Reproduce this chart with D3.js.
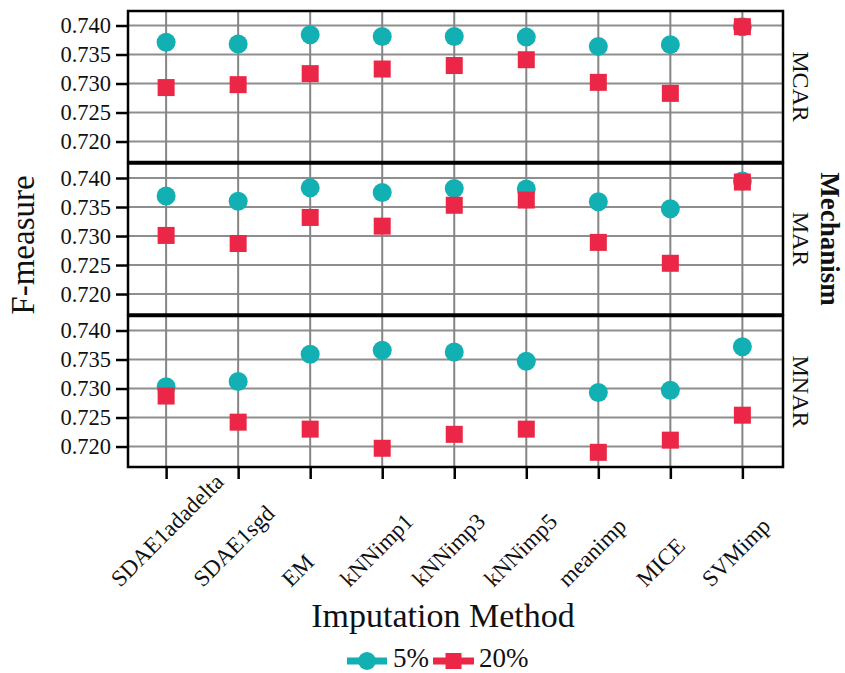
<!DOCTYPE html>
<html><head><meta charset="utf-8">
<script src="https://cdn.jsdelivr.net/npm/d3@7"></script>
<style>html,body{margin:0;padding:0;background:#fff;}svg{display:block;}</style>
</head><body>
<script>
const categories = ["SDAE1adadelta","SDAE1sgd","EM","kNNimp1","kNNimp3","kNNimp5","meanimp","MICE","SVMimp"];
const mechanisms = ["MCAR","MAR","MNAR"];
const seriesNames = ["5%","20%"];
const yTicks = [0.720,0.725,0.730,0.735,0.740];
const mcar5  = [0.7371,0.7368,0.7384,0.7381,0.7381,0.7380,0.7364,0.7367,0.7398];
const mcar20 = [0.7293,0.7298,0.7317,0.7325,0.7331,0.7341,0.7302,0.7283,0.7398];
const mar5   = [0.7369,0.7360,0.7383,0.7375,0.7382,0.7381,0.7359,0.7347,0.7395];
const mar20  = [0.7301,0.7287,0.7332,0.7317,0.7353,0.7362,0.7289,0.7253,0.7393];
const mnar5  = [0.7303,0.7312,0.7359,0.7366,0.7363,0.7347,0.7293,0.7297,0.7372];
const mnar20 = [0.7287,0.7242,0.7230,0.7197,0.7221,0.7230,0.7190,0.7211,0.7254];

const panelData = {MCAR:[mcar5,mcar20], MAR:[mar5,mar20], MNAR:[mnar5,mnar20]};
const colors = ["#13B0B3","#EB2646"];

const W = 845, H = 673;
const svg = d3.select("body").append("svg").attr("width",W).attr("height",H);
const left = 128, right = 783, panelH = 151, gap = 1.5, top0 = 11;
const serif = "'Liberation Serif', 'Times New Roman', serif";

const x = d3.scalePoint().domain(categories).range([126.5, 782]).padding(0.55);
const y = d3.scaleLinear().domain([0.71647, 0.7425]).range([panelH, 0]);

mechanisms.forEach((m, i) => {
  const top = top0 + i*(panelH+gap);
  const g = svg.append("g").attr("transform", `translate(0,${top})`);
  g.selectAll(".hg").data(yTicks).enter().append("line")
    .attr("x1", left).attr("x2", right)
    .attr("y1", d=>y(d)).attr("y2", d=>y(d))
    .attr("stroke","#8e8e8e").attr("stroke-width",2);
  g.selectAll(".vg").data(categories).enter().append("line")
    .attr("x1", d=>x(d)).attr("x2", d=>x(d))
    .attr("y1", 0).attr("y2", panelH)
    .attr("stroke","#858585").attr("stroke-width",2);
  const yAxis = d3.axisLeft(y).tickValues(yTicks).tickFormat(d3.format(".3f")).tickSize(12).tickPadding(5);
  const ya = g.append("g").attr("transform",`translate(${left},0)`).call(yAxis);
  ya.select(".domain").remove();
  ya.selectAll(".tick line").attr("stroke","#000").attr("stroke-width",2.5);
  ya.selectAll(".tick text").attr("font-family",serif).attr("font-size",22.5).attr("fill","#111");
  const [s5, s20] = panelData[m];
  g.selectAll(".c").data(s5).enter().append("circle")
    .attr("cx",(d,j)=>x(categories[j])).attr("cy",d=>y(d)).attr("r",9.5)
    .attr("fill",colors[0]);
  const sq = 17;
  g.selectAll(".s").data(s20).enter().append("rect")
    .attr("x",(d,j)=>x(categories[j])-sq/2).attr("y",d=>y(d)-sq/2)
    .attr("width",sq).attr("height",sq).attr("fill",colors[1]);
  g.append("rect").attr("x",left).attr("y",0).attr("width",right-left).attr("height",panelH)
    .attr("fill","none").attr("stroke","#000").attr("stroke-width",2.5);
  g.append("text").attr("transform",`translate(793,${panelH/2}) rotate(90)`)
    .attr("text-anchor","middle").attr("font-family",serif).attr("font-size",24)
    .attr("fill","#111").text(m);
});

const bottom = top0 + 3*panelH + 2*gap;
const xAxis = d3.axisBottom(x).tickSize(12).tickFormat("");
const xa = svg.append("g").attr("transform",`translate(0,${bottom})`).call(xAxis);
xa.select(".domain").remove();
xa.selectAll(".tick line").attr("stroke","#000").attr("stroke-width",2.5);

const lab = svg.append("g");
categories.forEach(c => {
  const t = lab.append("text").attr("font-family",serif).attr("font-size",23).attr("fill","#111").text(c);
  const L = t.node().getComputedTextLength();
  const w = L/Math.SQRT2;
  const sx = x(c) - 11 - w/3, sy = 588;
  t.attr("transform",`translate(${sx},${sy}) rotate(-45)`);
});

svg.append("text").attr("x",443).attr("y",627).attr("text-anchor","middle")
  .attr("font-family",serif).attr("font-size",34).attr("fill","#111").text("Imputation Method");
svg.append("text").attr("transform","translate(34,245) rotate(-90)").attr("text-anchor","middle")
  .attr("font-family",serif).attr("font-size",33).attr("fill","#111").text("F-measure");
svg.append("text").attr("transform",`translate(821,${top0+1.5*panelH+gap})rotate(90)`).attr("text-anchor","middle")
  .attr("font-family",serif).attr("font-size",27).attr("font-weight","bold").attr("fill","#111").text("Mechanism");

const leg = svg.append("g");
const ly = 661;
const items = [{x0:347,x1:387,tx:393},{x0:433,x1:474,tx:479}];
seriesNames.forEach((s,i)=>{
  const it = items[i];
  leg.append("line").attr("x1",it.x0).attr("x2",it.x1).attr("y1",ly).attr("y2",ly)
    .attr("stroke",colors[i]).attr("stroke-width",7);
  const cx = (it.x0+it.x1)/2;
  if(i===0) leg.append("circle").attr("cx",cx).attr("cy",ly).attr("r",9).attr("fill",colors[0]);
  else leg.append("rect").attr("x",cx-8).attr("y",ly-8).attr("width",16).attr("height",16).attr("fill",colors[1]);
  leg.append("text").attr("x",it.tx).attr("y",ly+6).attr("font-family",serif).attr("font-size",27)
    .attr("fill","#111").text(s);
});
</script>
</body></html>
